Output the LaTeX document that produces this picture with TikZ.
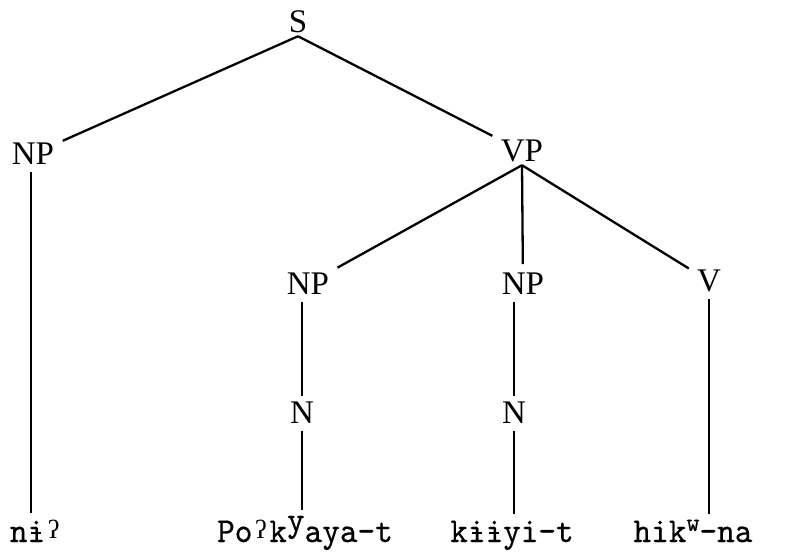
\documentclass[tikz,border=0pt]{standalone}
\usepackage{fontspec}
\setmainfont{Liberation Serif}
\newfontfamily\leaffont[FakeStretch=0.96,FakeBold=0.6]{lmmono10-regular.otf}
\newcommand\rais[1]{\raisebox{11pt}{#1}}
\newcommand\glot{\makebox[17pt]{\raisebox{4pt}{\rmfamily\fontsize{26}{26}\selectfont ʔ}}}
\newcommand\ibar{\ooalign{i\cr\hidewidth\rule[8pt]{10pt}{1.8pt}\hidewidth\cr}}

\begin{document}
\begin{tikzpicture}
                [x=1pt, y=-1pt, line width=2.3pt,
                cat/.style={font=\fontsize{33}{33}\selectfont, inner sep=2pt},
                leaf/.style={font=\leaffont\fontsize{35}{35}\selectfont,
                  anchor=base, inner sep=2pt},
                branch/.style={shorten >=6pt},
                stem/.style={shorten <=4pt, shorten >=3pt},
                ]
                \useasboundingbox (0,0) rectangle (802,559);

                % categories
                \node[cat] (S)   at (298,22)  {S};
                \node[cat] (NPa) at (33,154)  {NP};
                \node[cat] (VP)  at (522,151) {VP};
                \node[cat] (NPb) at (308,284) {NP};
                \node[cat] (NPc) at (523,284) {NP};
                \node[cat] (V)   at (709,281) {V};
                \node[cat] (Nb)  at (302,413) {N};
                \node[cat] (Nc)  at (514,413) {N};

                % words
                \node[leaf] (ni)   at (36,542)  {n\ibar\glot};
                \node[leaf] (poky) at (305,542) {Po\glot k\rais{y}aya-t};
                \node[leaf] (kiiy) at (512,542) {k\ibar\ibar yi-t};
                \node[leaf] (hikw) at (693,542) {hik\rais{\fontsize{26}{26}\selectfont w}-na};

                \draw[branch] (S.south) -- (NPa);
                \draw[branch] (S.south) -- (VP);
                \draw[branch] (VP.south) -- (NPb);
                \draw[branch] (VP.south) -- (NPc);
                \draw[branch] (VP.south) -- (V);

                \draw[stem] (NPa.south -| ni.north) ++(-5,0) -- ([xshift=-5pt]ni.north);
                \draw[stem] (Nb.north |- NPb.south) -- (Nb.north);
                \draw[stem] (Nb.south) -- (Nb.south |- poky.north);
                \draw[stem] (Nc.north |- NPc.south) -- (Nc.north);
                \draw[stem] (Nc.south) -- (Nc.south |- kiiy.north);
                \draw[stem] (V.south) -- (V.south |- hikw.north);
            \end{tikzpicture}
\end{document}
